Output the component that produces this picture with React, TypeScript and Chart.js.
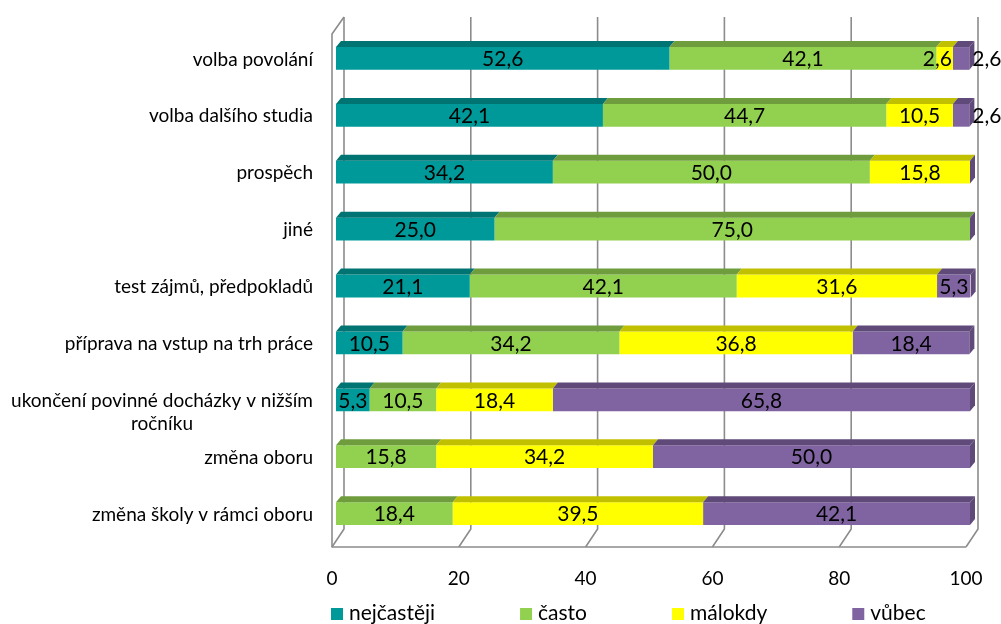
import React, { useEffect, useRef } from "react";
import { Chart, registerables } from "chart.js";

Chart.register(...registerables);

const categories: string[][] = [
  ["volba povolání"],
  ["volba dalšího studia"],
  ["prospěch"],
  ["jiné"],
  ["test zájmů, předpokladů"],
  ["příprava na vstup na trh práce"],
  ["ukončení povinné docházky v nižším", "ročníku"],
  ["změna oboru"],
  ["změna školy v rámci oboru"],
];

const seriesNames = ["nejčastěji", "často", "málokdy", "vůbec"];
const nejcasteji = [52.6, 42.1, 34.2, 25.0, 21.1, 10.5, 5.3, 0, 0];
const casto = [42.1, 44.7, 50.0, 75.0, 42.1, 34.2, 10.5, 15.8, 18.4];
const malokdy = [2.6, 10.5, 15.8, 0, 31.6, 36.8, 18.4, 34.2, 39.5];
const vubec = [2.6, 2.6, 0, 0, 5.3, 18.4, 65.8, 50.0, 42.1];
const xTicks = [0, 20, 40, 60, 80, 100];

const frontColors = ["#009999", "#92d050", "#ffff00", "#8064a2"];
const topColors = ["#007373", "#6f9c3d", "#c0c000", "#5f4a7a"];

const FONT = "Lato, 'Open Sans', sans-serif";
const DX = 5;
const DY = 6;

const fmt = (v: number) => v.toFixed(1).replace(".", ",");

const threeD = {
  id: "threeD",
  beforeDatasetsDraw(chart: any) {
    const ctx = chart.ctx;
    const xs = chart.scales.x;
    const backTop = 17;
    const backBottom = 529;
    const floorY = 547;
    ctx.save();
    ctx.strokeStyle = "#8c8c8c";
    ctx.lineWidth = 1.6;
    ctx.lineJoin = "round";
    for (const v of xTicks) {
      const p = xs.getPixelForValue(v);
      ctx.beginPath();
      ctx.moveTo(p + 8, backTop);
      ctx.lineTo(p + 8, backBottom);
      ctx.lineTo(p - 4, floorY);
      ctx.stroke();
    }
    const p0 = xs.getPixelForValue(xTicks[0]);
    const pN = xs.getPixelForValue(xTicks[xTicks.length - 1]);
    ctx.beginPath();
    ctx.moveTo(pN - 4, floorY);
    ctx.lineTo(p0 - 4, floorY);
    ctx.lineTo(p0 - 4, backTop + 17);
    ctx.lineTo(p0 + 8, backTop);
    ctx.stroke();

    // tick labels
    ctx.fillStyle = "#000";
    ctx.font = `19px ${FONT}`;
    ctx.textAlign = "center";
    ctx.textBaseline = "middle";
    for (const v of xTicks) {
      ctx.fillText(String(v), xs.getPixelForValue(v) - 4, 579);
    }

    // category labels
    const ys = chart.scales.y;
    ctx.font = `19px ${FONT}`;
    categories.forEach((lines, i) => {
      const cy = ys.getPixelForValue(i) + 1;
      const right = 313;
      if (lines.length === 1) {
        ctx.textAlign = "right";
        ctx.fillText(lines[0], right, cy);
      } else {
        const w = Math.max(...lines.map((l) => ctx.measureText(l).width));
        ctx.textAlign = "center";
        lines.forEach((l, k) => ctx.fillText(l, right - w / 2, cy + k * 23));
      }
    });

    // legend
    ctx.font = `21px ${FONT}`;
    ctx.textAlign = "left";
    let lx = 331;
    seriesNames.forEach((name, i) => {
      ctx.fillStyle = frontColors[i];
      ctx.fillRect(lx, 608, 12, 12);
      ctx.fillStyle = "#000";
      ctx.fillText(name, lx + 18, 613);
      lx += 18 + ctx.measureText(name).width + 85;
    });
    ctx.restore();
  },
  afterDatasetsDraw(chart: any) {
    const ctx = chart.ctx;
    ctx.save();
    const n = chart.data.datasets.length;
    const metas = chart.data.datasets.map((_: any, i: number) => chart.getDatasetMeta(i));
    // top faces
    for (let d = 0; d < n; d++) {
      metas[d].data.forEach((el: any) => {
        const x0 = el.base;
        const x1 = el.x;
        if (Math.abs(x1 - x0) < 0.5) return;
        const top = el.y - el.height / 2;
        ctx.fillStyle = topColors[d];
        ctx.beginPath();
        ctx.moveTo(x0, top);
        ctx.lineTo(x0 + DX, top - DY);
        ctx.lineTo(x1 + DX, top - DY);
        ctx.lineTo(x1, top);
        ctx.closePath();
        ctx.fill();
      });
    }
    // side faces
    metas[n - 1].data.forEach((el: any) => {
      const x1 = el.x;
      const top = el.y - el.height / 2;
      const bottom = el.y + el.height / 2;
      ctx.fillStyle = topColors[n - 1];
      ctx.beginPath();
      ctx.moveTo(x1, top);
      ctx.lineTo(x1 + DX, top - DY);
      ctx.lineTo(x1 + DX, bottom - DY);
      ctx.lineTo(x1, bottom);
      ctx.closePath();
      ctx.fill();
    });
    // value labels
    ctx.fillStyle = "#000";
    ctx.font = `21px ${FONT}`;
    ctx.textBaseline = "middle";
    for (let d = 0; d < n; d++) {
      const ds = chart.data.datasets[d];
      metas[d].data.forEach((el: any, i: number) => {
        const v = ds.data[i];
        if (!v) return;
        const t = fmt(v);
        const w = ctx.measureText(t).width;
        const segW = Math.abs(el.x - el.base);
        const cy = el.y + 1;
        if (w > segW - 2) {
          if (d === n - 1) {
            ctx.textAlign = "left";
            ctx.fillText(t, el.x + 3, cy);
          } else {
            ctx.textAlign = "right";
            ctx.fillText(t, el.x - 1, cy);
          }
        } else {
          ctx.textAlign = "center";
          ctx.fillText(t, (el.x + el.base) / 2, cy);
        }
      });
    }
    ctx.restore();
  },
};

export default function App() {
  const ref = useRef<HTMLCanvasElement | null>(null);
  useEffect(() => {
    if (!ref.current) return;
    const values = [nejcasteji, casto, malokdy, vubec];
    const chart = new Chart(ref.current, {
      type: "bar",
      data: {
        labels: categories.map((c) => c.join(" ")),
        datasets: seriesNames.map((name, i) => ({
          label: name,
          data: values[i],
          backgroundColor: frontColors[i],
          borderWidth: 0,
          barPercentage: 0.4,
          categoryPercentage: 1,
        })),
      },
      options: {
        indexAxis: "y",
        responsive: false,
        animation: false,
        devicePixelRatio: 1,
        layout: { padding: { left: 336, right: 31, top: 30, bottom: 82 } },
        plugins: {
          legend: { display: false },
          tooltip: { enabled: false },
        },
        scales: {
          x: { stacked: true, min: 0, max: 100, display: false },
          y: { stacked: true, display: false },
        },
      },
      plugins: [threeD],
    });
    return () => chart.destroy();
  }, []);
  return (
    <div style={{ position: "fixed", left: 0, top: 0, width: 1001, height: 624, background: "#fff" }}>
      <canvas ref={ref} width={1001} height={624} />
    </div>
  );
}
